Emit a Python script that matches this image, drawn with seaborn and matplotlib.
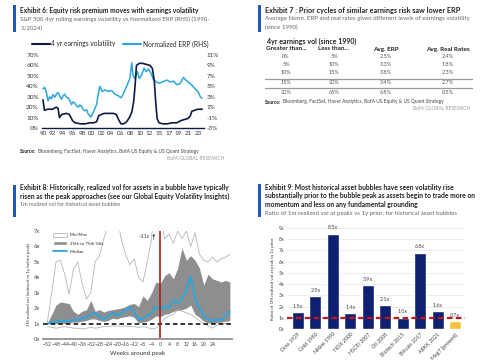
import numpy as np
import pandas as pd
import seaborn as sns
import matplotlib.pyplot as plt
from matplotlib.lines import Line2D
from matplotlib.patches import Rectangle, Patch

W, H = 485, 360

# Exhibit 6: 4yr earnings volatility (LHS) vs normalized ERP (RHS)
vol_year = [1990.0, 1990.3, 1991.0, 1992.0, 1992.8, 1993.2, 1993.5, 1994.0, 1995.0, 1995.6,
            1996.3, 1996.8, 1998.0, 1999.0, 2000.0, 2000.8, 2001.4, 2001.9, 2003.0, 2004.0,
            2005.0, 2005.6, 2006.1, 2006.6, 2007.2, 2007.8, 2008.4, 2008.9, 2009.3, 2009.6,
            2009.9, 2010.5, 2011.2, 2012.0, 2012.8, 2013.3, 2013.7, 2014.0, 2014.3, 2014.7,
            2015.5, 2016.5, 2017.5, 2018.5, 2019.3, 2020.0, 2020.8, 2021.3, 2021.7, 2022.3,
            2023.0, 2023.9]
vol_pct = [27, 17, 18, 18, 20, 19, 10, 13, 14, 13,
           7, 5, 4, 4, 5, 5, 6, 12, 14, 14,
           14, 13, 8, 4, 4, 6, 10, 15, 25, 40,
           60, 62, 62, 61, 60, 57, 45, 25, 9, 5,
           4, 4, 5, 5, 7, 8, 9, 11, 16, 17,
           18, 18]
erp_year = [1990.0, 1990.36, 1990.7, 1991.07, 1991.43, 1991.8, 1992.1, 1992.5, 1992.85, 1993.2,
            1993.6, 1993.92, 1994.3, 1994.63, 1995.0, 1995.35, 1995.7, 1996.06, 1996.4, 1996.77,
            1997.1, 1997.48, 1997.8, 1998.2, 1998.5, 1998.9, 1999.3, 1999.6, 2000.2, 2000.7,
            2001.4, 2001.76, 2002.1, 2002.6, 2003.2, 2003.9, 2004.6, 2005.3, 2006.0, 2006.6,
            2007.1, 2007.8, 2008.5, 2008.9, 2009.2, 2009.6, 2010.1, 2010.5, 2011.0, 2011.5,
            2011.95, 2012.45, 2013.0, 2013.5, 2014.2, 2014.8, 2015.3, 2015.9, 2016.4, 2017.1,
            2017.8, 2018.5, 2019.2, 2019.9, 2020.4, 2021.0, 2021.7, 2022.4, 2023.0, 2023.5,
            2023.85]
erp_pct = [4.5, 4.8, 3.9, 2.2, 3.0, 2.6, 3.4, 2.9, 3.5, 3.8,
           3.1, 2.5, 3.2, 3.5, 2.9, 2.8, 2.3, 1.5, 2.0, 1.8,
           1.3, 1.0, 1.4, 1.2, 0.6, 0.3, 0.5, -0.3, -0.9, 0.0,
           1.5, 3.5, 5.0, 4.0, 4.3, 4.0, 4.2, 3.5, 3.2, 2.8,
           3.5, 5.0, 6.5, 9.5, 7.0, 6.5, 7.8, 6.5, 7.2, 8.5,
           7.8, 8.3, 7.5, 6.3, 5.8, 5.6, 5.8, 6.0, 6.2, 5.8,
           6.0, 5.3, 5.5, 6.7, 6.2, 5.8, 5.2, 4.5, 4.0, 3.0,
           2.7]
year_labels = ["90", "92", "94", "96", "98", "00", "02", "04", "06", "08",
               "10", "12", "15", "17", "19", "21", "23"]

# Exhibit 7: table
vol_greater = ["0%", "5%", "10%", "15%", "20%"]
vol_less = ["5%", "10%", "15%", "20%", "65%"]
avg_erp = ["2.5%", "3.3%", "3.8%", "3.4%", "6.8%"]
avg_real = ["2.4%", "1.8%", "2.3%", "2.7%", "0.5%"]

# Exhibit 8: 1m realized vol around bubble peaks
weeks = list(range(-52, 34, 2))
vol_min = [0.8, 0.75, 0.7, 0.75, 0.8, 0.75, 0.7, 0.7, 0.65, 0.7,
           0.75, 0.7, 0.75, 0.8, 0.8, 0.85, 0.85, 0.8, 0.85, 0.8,
           0.8, 0.75, 0.8, 0.75, 0.65, 0.7, 1.0, 1.3, 1.5, 1.6,
           1.9, 1.8, 1.7, 1.6, 1.4, 1.2, 1.0, 0.85, 0.7, 0.9, 1.0, 1.0, 1.0]
vol_max = [1.1, 3.0, 5.0, 5.1, 4.2, 2.9, 4.5, 5.0, 3.6, 2.6,
           3.0, 5.0, 5.4, 6.5, 7.5, 8.0, 8.0, 6.5, 5.5, 4.8,
           5.2, 4.0, 3.7, 5.0, 6.5, 11.0, 8.0, 6.5, 6.8, 6.2,
           7.0, 6.5, 7.0, 6.0, 6.9, 5.5, 5.1, 5.0, 5.3, 5.0, 5.2, 5.3, 5.5]
vol_p25 = [1.0, 1.0, 1.0, 1.05, 1.0, 1.05, 1.1, 1.1, 1.15, 1.2,
           1.3, 1.3, 1.2, 1.15, 1.2, 1.35, 1.3, 1.4, 1.45, 1.5,
           1.4, 1.05, 1.1, 1.15, 1.3, 1.5, 1.45, 1.6, 1.65, 1.8,
           1.85, 1.9, 2.0, 2.2, 1.6, 1.4, 1.15, 1.05, 1.0, 1.05, 1.1, 1.15, 1.2]
vol_p75 = [1.05, 1.6, 2.2, 2.4, 2.35, 2.3, 1.8, 1.6, 1.8, 1.9,
           2.5, 1.8, 1.9, 1.75, 1.85, 1.9, 1.95, 2.0, 2.1, 2.25,
           2.3, 2.1, 2.8, 2.5, 3.0, 3.7, 3.6, 4.1, 4.3, 3.9,
           4.6, 5.9, 5.1, 5.4, 5.1, 4.6, 3.5, 4.2, 3.9, 3.8, 3.7, 3.8, 3.7]
vol_median = [1.0, 1.05, 1.15, 1.2, 1.15, 1.2, 1.2, 1.25, 1.35, 1.4,
              1.6, 1.7, 1.4, 1.3, 1.45, 1.7, 1.55, 1.65, 1.85, 2.05,
              1.75, 1.25, 1.35, 1.5, 1.7, 2.1, 1.9, 2.15, 2.0, 2.5,
              2.35, 2.55, 3.2, 4.05, 2.6, 2.0, 1.5, 1.3, 1.15, 1.3, 1.2, 1.5, 1.75]
week_ticks = list(range(-52, 25, 4))

# Exhibit 9: ratio of 1m realized vol at peak vs 1y prior
bubbles = ["Dow 1929", "Gold 1980", "Nikkei 1990", "NDX 2000", "HSCEI 2007",
           "Oil 2008", "Biotech 2015", "Bitcoin 2017", "ARKK 2021", "Mag7 (present)"]
vol_ratio = [1.5, 2.9, 8.5, 1.4, 3.9, 2.1, 1.0, 6.8, 1.6, 0.7]

sns.set_style("white")
plt.rcParams['font.family'] = ['Lato', 'DejaVu Sans']

NAVY = "#0f1a45"
BARNAVY = "#0e2070"
LBLUE = "#2ba6de"
ACCENT = "#1f5bb5"
TXT = "#222222"
SUB = "#666666"

fig = plt.figure(figsize=(W / 100, H / 100), dpi=100)
renderer = fig.canvas.get_renderer()


def box(x0, y0, x1, y1):
    return [x0 / W, 1 - y1 / H, (x1 - x0) / W, (y1 - y0) / H]


def txt(x, y, s, **kw):
    kw.setdefault("va", "center")
    kw.setdefault("color", TXT)
    return fig.text(x / W, 1 - y / H, s, **kw)


def accent(x, y0, y1):
    fig.add_artist(Rectangle((x / W, 1 - y1 / H), 3 / W, (y1 - y0) / H,
                             transform=fig.transFigure, color=ACCENT, lw=0))


def hline(x0, x1, y, **kw):
    fig.add_artist(Line2D([x0 / W, x1 / W], [1 - y / H, 1 - y / H],
                          transform=fig.transFigure, **kw))


def source(x, y, xr, yr, size):
    t = txt(x, y, "Source:", fontsize=size, weight="bold")
    w = t.get_window_extent(renderer).width
    txt(x + w + 1.5, y, "Bloomberg, FactSet, Haver Analytics, BofA US Equity & US Quant Strategy",
        fontsize=size, color="#444444")
    txt(xr, yr, "BofA GLOBAL RESEARCH", fontsize=size, color="#9a9a9a", ha="right")


# ---------------- Exhibit 6 ----------------
accent(13, 5, 32)
txt(20, 10, "Exhibit 6: Equity risk premium moves with earnings volatility", fontsize=4.8, weight="bold")
txt(20, 19, "S&P 500 4yr rolling earnings volatility vs Normalized ERP (RHS) (1990-", fontsize=4.45, color=SUB)
txt(20, 28, "1/2024)", fontsize=4.45, color=SUB)

ax1 = fig.add_axes(box(41.6, 55, 203.6, 128))
ax1b = ax1.twinx()
sns.lineplot(x=erp_year, y=erp_pct, ax=ax1b, color=LBLUE, lw=1.1)
sns.lineplot(x=vol_year, y=vol_pct, ax=ax1, color=NAVY, lw=1.2)
ax1.set_zorder(ax1b.get_zorder() + 1)
ax1.patch.set_visible(False)
ax1.set_xlim(1989.7, 2024.2)
ax1.set_ylim(0, 70)
ax1b.set_ylim(-3, 11)
ax1.set_xticks(np.linspace(1990, 2023, len(year_labels)))
ax1.set_xticklabels(year_labels)
ax1.set_yticks(range(0, 71, 10))
ax1.set_yticklabels([f"{v}%" for v in range(0, 71, 10)])
ax1b.set_yticks(range(-3, 12, 2))
ax1b.set_yticklabels([f"{v}%" for v in range(-3, 12, 2)])
for a in (ax1, ax1b):
    a.set_xlabel("")
    a.set_ylabel("")
    for s in a.spines.values():
        s.set_visible(False)
    a.tick_params(length=0, labelsize=4.6, colors="#333333", pad=2)
ax1.tick_params(axis="x", labelsize=4.5)
ax1.spines["bottom"].set_visible(True)
ax1.spines["bottom"].set_color(NAVY)
ax1.spines["bottom"].set_linewidth(1.0)
fig.legend(handles=[Line2D([], [], color=NAVY, lw=1.5, label="4 yr earnings volatility"),
                    Line2D([], [], color=LBLUE, lw=1.5, label="Normalized ERP (RHS)")],
           loc="center", bbox_to_anchor=(120 / W, 1 - 44 / H), ncol=2, frameon=False,
           fontsize=4.8, handlelength=2.7, columnspacing=1.2, handletextpad=0.2)
source(20, 151, 224, 158, 3.5)

# ---------------- Exhibit 7 ----------------
accent(258, 5, 32)
txt(265, 10, "Exhibit 7 : Prior cycles of similar earnings risk saw lower ERP", fontsize=5.2, weight="bold")
txt(265, 18.5, "Average Norm. ERP and real rates given different levels of earnings volatility", fontsize=4.4, color=SUB)
txt(265, 27, "(since 1990)", fontsize=4.4, color=SUB)

col_x = [286, 334, 386, 448]
txt(312, 41, "4yr earnings vol (since 1990)", fontsize=5.0, weight="bold", ha="center")
for cx, h in zip(col_x, ["Greater than...", "Less than...", "Avg. ERP", "Avg. Real Rates"]):
    txt(cx, 49, h, fontsize=4.6, weight="bold", ha="center")
row_y = [57, 64.5, 72.5, 83, 92]
for i, ry in enumerate(row_y):
    for cx, col in zip(col_x, [vol_greater, vol_less, avg_erp, avg_real]):
        txt(cx, ry, col[i], fontsize=4.0, color="#555555", ha="center")
hline(265, 472, 78.5, color="#9a9a9a", lw=0.9)
hline(265, 472, 87.5, color="#9a9a9a", lw=0.9)
source(265, 102, 470, 109, 3.5)

# ---------------- Exhibit 8 ----------------
accent(13, 185, 217)
txt(20, 187, "Exhibit 8: Historically, realized vol for assets in a bubble have typically", fontsize=4.85, weight="bold")
txt(20, 196, "risen as the peak approaches (see our Global Equity Volatility Insights)", fontsize=4.85, weight="bold")
txt(20, 205, "1m realized vol for historical asset bubbles", fontsize=3.9, color=SUB)

ax3 = fig.add_axes(box(43, 231, 232, 339))
ax3.fill_between(weeks, vol_p25, vol_p75, color="#8e8e8e", lw=0)
sns.lineplot(x=weeks, y=vol_min, ax=ax3, color="#b5b5b5", lw=0.6)
sns.lineplot(x=weeks, y=vol_max, ax=ax3, color="#b5b5b5", lw=0.6)
sns.lineplot(x=weeks, y=vol_median, ax=ax3, color=LBLUE, lw=1.4)
ax3.axhline(1, color="black", ls=(0, (3, 2)), lw=1.1)
ax3.axvline(0, color="#b01c1c", lw=1.2)
ax3.annotate("", xy=(-3, 7.0), xytext=(-3, 6.25),
             arrowprops=dict(arrowstyle="-|>", lw=0.4, color="#333333", mutation_scale=3))
ax3.text(-5, 6.65, "~11x", fontsize=3.4, ha="right", va="center", color="#333333")
ax3.set_xlim(-54, 33)
ax3.set_ylim(0, 7)
ax3.set_xticks(week_ticks)
ax3.set_yticks(range(0, 8))
ax3.set_yticklabels([f"{v}x" for v in range(0, 8)])
for s in ax3.spines.values():
    s.set_visible(False)
ax3.spines["bottom"].set_visible(True)
ax3.spines["bottom"].set_color("#9a9a9a")
ax3.spines["bottom"].set_linewidth(1.4)
ax3.tick_params(length=0, labelsize=4.2, colors="#444444", pad=2)
ax3.tick_params(axis="x", labelsize=3.7)
ax3.set_xlabel("Weeks around peak", fontsize=4.5, color="#333333", labelpad=3)
ax3.set_ylabel("1M realized vol (indexed to 1y before peak)", fontsize=3.2, color="#333333", labelpad=2)
ax3.legend(handles=[Patch(facecolor="white", edgecolor="#b5b5b5", lw=0.6, label="Min/Max"),
                    Patch(facecolor="#8e8e8e", label="25th to 75th %ile"),
                    Line2D([], [], color=LBLUE, lw=1.3, label="Median")],
           loc="upper left", bbox_to_anchor=(0.03, 1.02), frameon=False, fontsize=3.2,
           handlelength=3.2, handleheight=0.9, labelspacing=0.9, handletextpad=0.6)

# ---------------- Exhibit 9 ----------------
accent(258, 184, 217)
txt(265, 187, "Exhibit 9: Most historical asset bubbles have seen volatility rise", fontsize=4.9, weight="bold")
txt(265, 196, "substantially prior to the bubble peak as assets begin to trade more on", fontsize=4.9, weight="bold")
txt(265, 205, "momentum and less on any fundamental grounding", fontsize=4.9, weight="bold")
txt(265, 213, "Ratio of 1m realized vol at peaks vs 1y prior, for historical asset bubbles", fontsize=4.4, color=SUB)

ax4 = fig.add_axes(box(287.5, 228, 465.5, 329))
bar_colors = [BARNAVY] * (len(bubbles) - 1) + ["#f7c23a"]
sns.barplot(x=bubbles, y=vol_ratio, hue=bubbles, palette=bar_colors, legend=False,
            ax=ax4, width=0.68, saturation=1, zorder=2)
ax4.axhline(1, color="#c0171c", ls=(0, (2.5, 1.5)), lw=1.6, zorder=3)
for p, v in zip(ax4.patches, vol_ratio):
    ax4.text(p.get_x() + p.get_width() / 2, p.get_height() + 0.3, f"{v:.1f}x",
             ha="center", va="bottom", fontsize=3.9, color="#444444")
ax4.set_xlim(-0.6, len(bubbles) - 0.4)
ax4.set_ylim(0, 9)
ax4.set_yticks(range(0, 10))
ax4.set_yticklabels([f"{v}x" for v in range(0, 10)])
ax4.yaxis.grid(True, color="#e6e6e6", lw=0.5, zorder=0)
for s in ax4.spines.values():
    s.set_visible(False)
ax4.tick_params(length=0, labelsize=3.8, colors="#444444", pad=2)
ax4.set_xticks(range(len(bubbles)))
ax4.set_xticklabels(bubbles, rotation=45, ha="right", rotation_mode="anchor", fontsize=3.8)
ax4.set_xlabel("")
ax4.set_ylabel("Ratio of 1M realized vol at peak vs 1y prior", fontsize=3.2, color="#333333", labelpad=3)

fig.savefig("out.png", dpi=100, facecolor="white")
